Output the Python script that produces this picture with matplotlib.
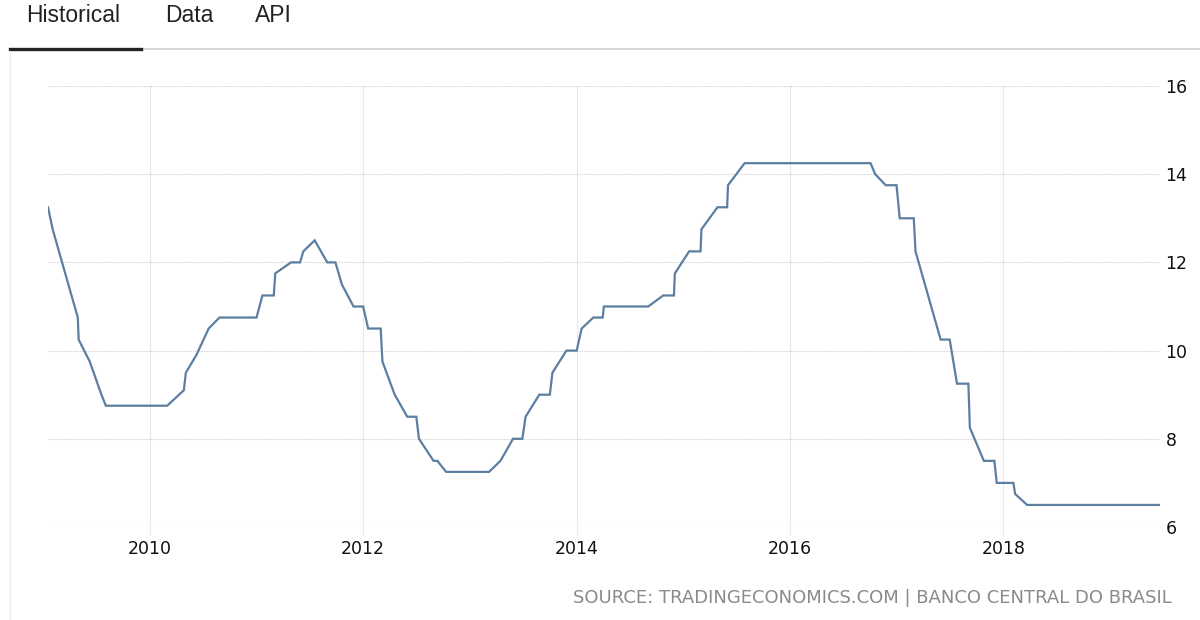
import numpy as np
import matplotlib
matplotlib.use('Agg')
import matplotlib.pyplot as plt
from matplotlib import font_manager

# vertices of the rate line
dates = ['2009-01-17', '2009-02-02', '2009-04-29', '2009-05-02', '2009-06-09',
         '2009-07-19', '2009-08-03', '2010-03-01', '2010-04-27', '2010-05-04',
         '2010-06-09', '2010-07-21', '2010-08-27', '2011-01-01', '2011-01-21',
         '2011-03-01', '2011-03-06', '2011-04-29', '2011-05-30', '2011-06-10',
         '2011-07-19', '2011-08-31', '2011-09-28', '2011-10-20', '2011-11-29',
         '2012-01-01', '2012-01-18', '2012-03-01', '2012-03-07', '2012-04-18',
         '2012-05-31', '2012-07-01', '2012-07-10', '2012-08-29', '2012-09-11',
         '2012-10-11', '2013-03-07', '2013-04-15', '2013-05-28', '2013-06-29',
         '2013-07-10', '2013-08-26', '2013-10-01', '2013-10-10', '2013-11-27',
         '2014-01-01', '2014-01-18', '2014-02-27', '2014-03-31', '2014-04-04',
         '2014-09-03', '2014-10-24', '2014-11-30', '2014-12-03', '2015-01-21',
         '2015-03-01', '2015-03-04', '2015-04-28', '2015-05-31', '2015-06-03',
         '2015-07-30', '2016-10-03', '2016-10-19', '2016-11-24', '2016-12-31',
         '2017-01-11', '2017-02-28', '2017-03-06', '2017-05-31', '2017-07-01',
         '2017-07-26', '2017-09-03', '2017-09-08', '2017-10-26', '2017-12-01',
         '2017-12-09', '2018-02-04', '2018-02-10', '2018-03-23', '2019-06-21']
rates = [13.25, 12.75, 10.75, 10.25, 9.75,
         9.0, 8.75, 8.75, 9.1, 9.5,
         9.9, 10.5, 10.75, 10.75, 11.25,
         11.25, 11.75, 12.0, 12.0, 12.25,
         12.5, 12.0, 12.0, 11.5, 11.0,
         11.0, 10.5, 10.5, 9.75, 9.0,
         8.5, 8.5, 8.0, 7.5, 7.5,
         7.25, 7.25, 7.5, 8.0, 8.0,
         8.5, 9.0, 9.0, 9.5, 10.0,
         10.0, 10.5, 10.75, 10.75, 11.0,
         11.0, 11.25, 11.25, 11.75, 12.25,
         12.25, 12.75, 13.25, 13.25, 13.75,
         14.25, 14.25, 14.0, 13.75, 13.75,
         13.0, 13.0, 12.25, 10.25, 10.25,
         9.25, 9.25, 8.25, 7.5, 7.5,
         7.0, 7.0, 6.75, 6.5, 6.5]
year_ticks = [2010, 2012, 2014, 2016, 2018]
y_ticks = [6, 8, 10, 12, 14, 16]
tabs = ['Historical', 'Data', 'API']
source = 'SOURCE: TRADINGECONOMICS.COM | BANCO CENTRAL DO BRASIL'

# narrow font for the source line if the system has one
names = {f.name for f in font_manager.fontManager.ttflist}
if 'Liberation Sans Narrow' in names:
    src_family, src_size = 'Liberation Sans Narrow', 15.5
else:
    src_family, src_size = 'DejaVu Sans', 13

x = np.array(dates, dtype='datetime64[D]')

fig = plt.figure(figsize=(12, 6.2), dpi=100)
fig.patch.set_facecolor('white')

# tab header
tab_x = [0.022, 0.1375, 0.2125]
for t, tx in zip(tabs, tab_x):
    fig.text(tx, 0.975, t, fontsize=16.5, color='#222222', va='center', ha='left',
             family=['Liberation Sans', 'DejaVu Sans'])
fig.add_artist(plt.Line2D([141 / 1200, 1.0], [1 - 49 / 620] * 2, color='#d0d0d0', lw=1.2))
fig.add_artist(plt.Line2D([10 / 1200, 141 / 1200], [1 - 49 / 620] * 2, color='#222222', lw=2.4))
fig.add_artist(plt.Line2D([10 / 1200] * 2, [0.0, 1 - 51 / 620], color='#ececec', lw=0.8))

ax = fig.add_axes([48 / 1200, 1 - 527 / 620, (1160 - 48) / 1200, (527 - 86) / 620])
ax.plot(x, rates, color='#5b7ea1', lw=1.6, solid_joinstyle='miter')
ax.set_xlim(x[0], x[-1])
ax.set_ylim(6, 16)

ax.set_xticks([np.datetime64('%d-01-01' % y) for y in year_ticks])
ax.set_xticklabels([str(y) for y in year_ticks])
ax.set_yticks(y_ticks)
ax.yaxis.tick_right()

for s in ax.spines.values():
    s.set_visible(False)
ax.grid(axis='y', color='#cfcfcf', lw=0.8, ls=(0, (1, 1)))
ax.grid(axis='x', color='#e8e8e8', lw=0.8)
ax.tick_params(axis='x', length=6, color='#e8e8e8', pad=3, labelsize=12.5, labelcolor='#111111')
ax.tick_params(axis='y', length=0, pad=4, labelsize=12.5, labelcolor='#111111')

fig.text(1172 / 1200, 1 - 598 / 620, source, ha='right', va='center',
         fontsize=src_size, color='#8a8a8a', family=src_family)

fig.savefig('out.png', dpi=100, facecolor='white')
